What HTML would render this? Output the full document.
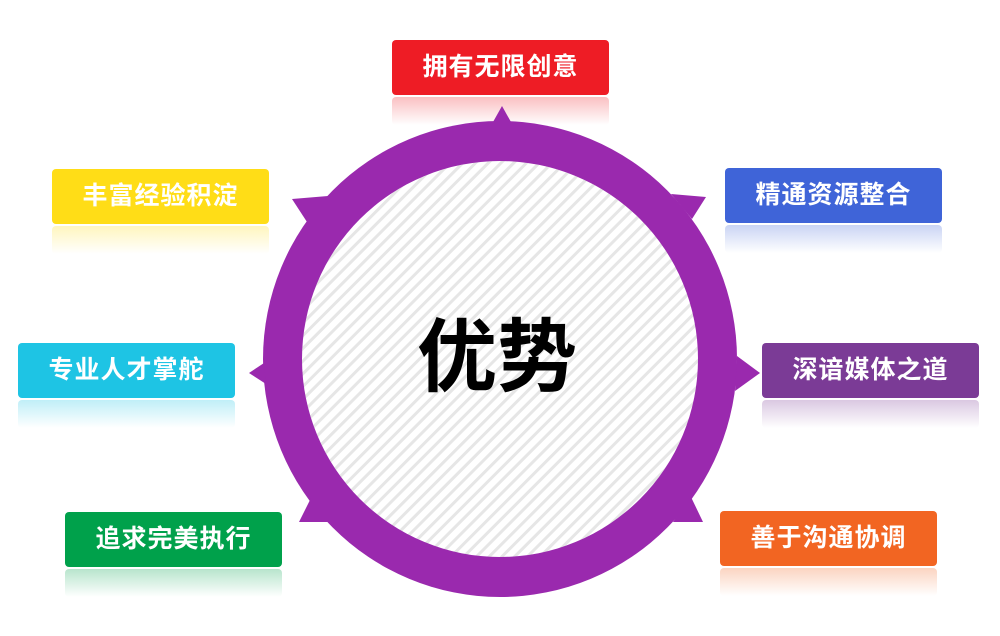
<!DOCTYPE html>
<html><head><meta charset="utf-8"><style>
body{margin:0;width:1000px;height:636px;background:#fff;position:relative;overflow:hidden;font-family:"Liberation Sans","Noto Sans CJK SC",sans-serif}
.b{position:absolute;width:217px;height:55px;border-radius:4px;color:#fff;font-weight:bold;font-size:25px;line-height:55px;text-align:center;letter-spacing:1px}
.r{position:absolute;width:217px;height:28px;border-radius:4px;opacity:.28}
svg{z-index:2}
</style></head><body>
<div class="r" style="left:392px;top:97px;background:linear-gradient(#ee1c25,#fff)"></div>
<div class="r" style="left:52px;top:226px;background:linear-gradient(#ffdd17,#fff)"></div>
<div class="r" style="left:725px;top:225px;background:linear-gradient(#3f64d8,#fff)"></div>
<div class="r" style="left:18px;top:400px;background:linear-gradient(#1ec4e4,#fff)"></div>
<div class="r" style="left:762px;top:400px;background:linear-gradient(#7b3b96,#fff)"></div>
<div class="r" style="left:65px;top:569px;background:linear-gradient(#00a14b,#fff)"></div>
<div class="r" style="left:720px;top:568px;background:linear-gradient(#f26522,#fff)"></div>
<svg width="1000" height="636" style="position:absolute;left:0;top:0">
<defs><pattern id="st" width="9" height="9" patternUnits="userSpaceOnUse" patternTransform="rotate(45)"><rect width="9" height="9" fill="#fff"/><rect width="3" height="9" fill="#e6e6e6"/></pattern></defs>
<ellipse cx="500" cy="359" rx="237" ry="238" fill="#9a29ae"/>
<g fill="#9a29ae">
<polygon points="502,106 493,122 511,122"/>
<polygon points="292,199 328,196 307,222"/>
<polygon points="706,197 671,194 692,219"/>
<polygon points="249,373 264,363 266,384"/>
<polygon points="760,373 737,356 735,391"/>
<polygon points="299,522 311,498 328,522"/>
<polygon points="703,522 691,497 673,522"/>
</g>
<circle cx="500" cy="359" r="198" fill="url(#st)"/>
<text x="497" y="385" font-size="80" font-weight="bold" text-anchor="middle" font-family="Liberation Sans,Noto Sans CJK SC,sans-serif">优势</text>
</svg>
<div class="b" style="left:392px;top:40px;background:#ee1c25">拥有无限创意</div>
<div class="b" style="left:52px;top:169px;background:#ffdd17">丰富经验积淀</div>
<div class="b" style="left:725px;top:168px;background:#3f64d8">精通资源整合</div>
<div class="b" style="left:18px;top:343px;background:#1ec4e4">专业人才掌舵</div>
<div class="b" style="left:762px;top:343px;background:#7b3b96">深谙媒体之道</div>
<div class="b" style="left:65px;top:512px;background:#00a14b">追求完美执行</div>
<div class="b" style="left:720px;top:511px;background:#f26522">善于沟通协调</div>
</body></html>
